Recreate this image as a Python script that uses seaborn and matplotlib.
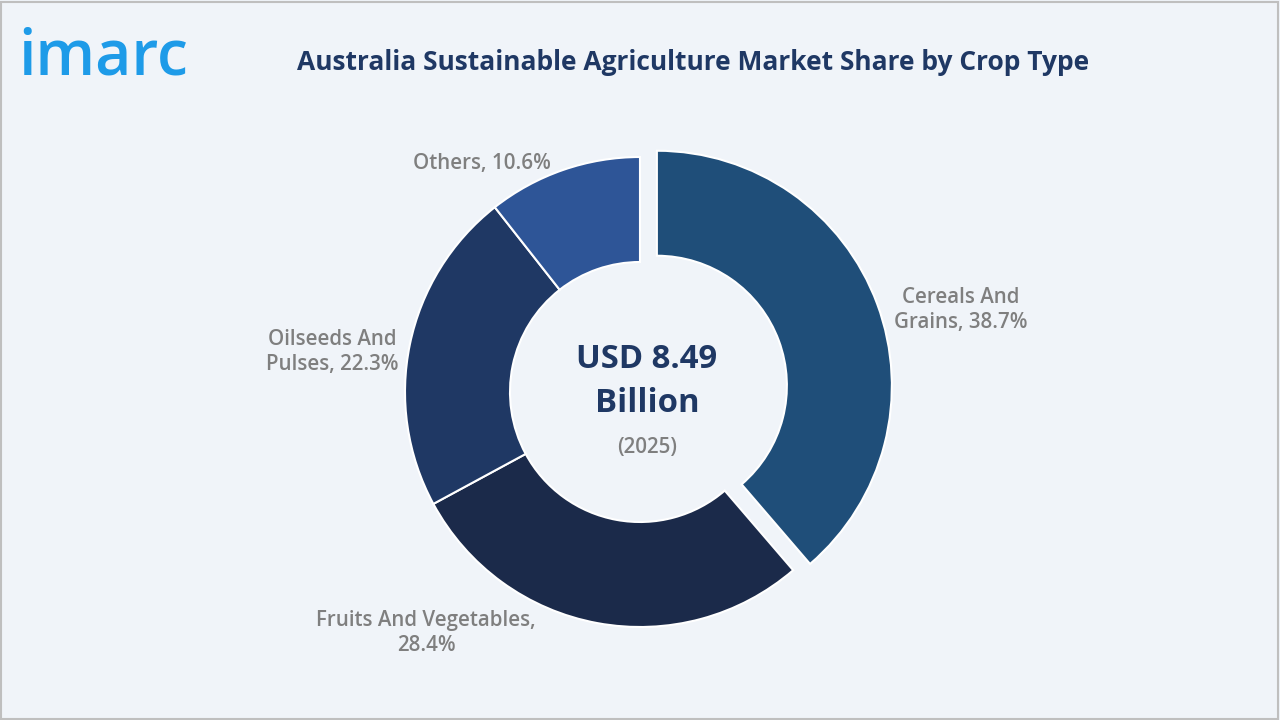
import matplotlib
matplotlib.use("Agg")
import matplotlib.pyplot as plt
import seaborn as sns
from matplotlib.patches import Rectangle

# data
crops = ["Cereals And Grains", "Fruits And Vegetables", "Oilseeds And Pulses", "Others"]
shares = [38.7, 28.4, 22.3, 10.6]
colors = ["#1F4E79", "#1B2A4A", "#1F3864", "#2E5597"]
explode = [18, 0, 0, 0]  # pie offsets are in data units here (pixels)

sns.set_theme(style="white")
plt.rcParams["font.family"] = ["Open Sans", "DejaVu Sans"]

fig = plt.figure(figsize=(12.8, 7.2), dpi=100, facecolor="#F0F4F9")
ax = fig.add_axes([0, 0, 1, 1])

ax.pie(shares, colors=colors, explode=explode, startangle=90, counterclock=False,
       center=(640, 328), radius=235, frame=True,
       wedgeprops=dict(width=105, edgecolor="white", linewidth=1.5))

# pie resets the limits, so set them afterwards
ax.set_xlim(0, 1280)
ax.set_ylim(0, 720)
ax.set_aspect("equal")
ax.axis("off")
ax.add_patch(Rectangle((1, 1), 1277, 717, fill=False, edgecolor="#BFBFBF", lw=1.5))

gray = "#7F7F7F"
fs = 14.8
ax.text(961, 410, "Cereals And\nGrains, 38.7%", ha="center", va="center", fontsize=fs, color=gray, fontweight="semibold", linespacing=1.2)
ax.text(426, 87, "Fruits And Vegetables,\n28.4%", ha="center", va="center", fontsize=fs, color=gray, fontweight="semibold", linespacing=1.2)
ax.text(332, 368, "Oilseeds And\nPulses, 22.3%", ha="center", va="center", fontsize=fs, color=gray, fontweight="semibold", linespacing=1.2)
ax.text(482, 556, "Others, 10.6%", ha="center", va="center", fontsize=fs, color=gray, fontweight="semibold")

navy = "#1F3864"
ax.text(647, 361, "USD 8.49", ha="center", va="center", fontsize=23.7, color=navy, fontweight="bold")
ax.text(647, 317, "Billion", ha="center", va="center", fontsize=23.7, color=navy, fontweight="bold")
ax.text(647, 273, "(2025)", ha="center", va="center", fontsize=fs, color=gray, fontweight="semibold")

ax.text(693, 658, "Australia Sustainable Agriculture Market Share by Crop Type", ha="center", va="center",
        fontsize=19, color=navy, fontweight="bold")
ax.text(18, 662, "imarc", ha="left", va="center", fontsize=45, color="#1E9BE8", fontweight="semibold")

fig.savefig("out.png", dpi=100, facecolor=fig.get_facecolor())
